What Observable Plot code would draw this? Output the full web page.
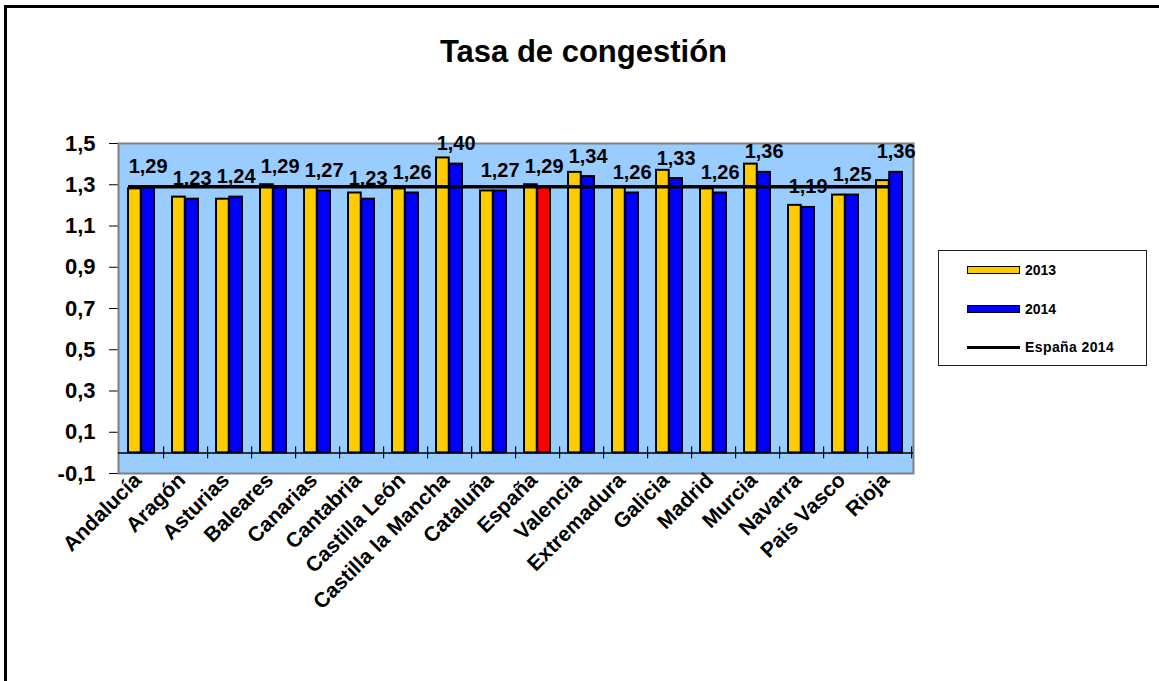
<!DOCTYPE html>
<html><head><meta charset="utf-8">
<script src="https://cdn.jsdelivr.net/npm/d3@7"></script>
<script src="https://cdn.jsdelivr.net/npm/@observablehq/plot@0.6"></script>
<style>
body{margin:0;background:#fff;overflow:hidden;font-family:"Liberation Sans",Arial,sans-serif;}
#wrap{position:relative;width:1159px;height:681px;overflow:hidden;}
#border{position:absolute;left:4px;top:5px;width:1300px;height:800px;border-left:3px solid #000;border-top:3px solid #000;z-index:5;}
#title{position:absolute;left:0;width:1167px;top:36px;text-align:center;font-weight:bold;font-size:31px;line-height:31px;z-index:6;}
#chart{position:absolute;left:0;top:0;}
#legend{position:absolute;left:938px;top:250px;width:207px;height:114px;border:1px solid #222;background:#fff;z-index:6;}
#legend .sw{position:absolute;left:28px;width:53px;height:8px;box-sizing:border-box;border:1.5px solid #000;}
#legend .ln{position:absolute;left:28px;width:53px;height:3px;background:#000;}
#legend .tx{position:absolute;left:86px;font-size:14px;line-height:14px;font-weight:bold;white-space:nowrap;}
</style></head>
<body>
<div id="wrap">
  <div id="border"></div>
  <div id="title">Tasa de congestión</div>
  <div id="chart"></div>
  <div id="legend"></div>
</div>
<script>
// ---- data ----
const categories = ["Andalucía","Aragón","Asturias","Baleares","Canarias","Cantabria","Castilla León","Castilla la Mancha","Cataluña","España","Valencia","Extremadura","Galicia","Madrid","Murcia","Navarra","Pais Vasco","Rioja"];
const values2013 = [1.28,1.24,1.23,1.30,1.29,1.26,1.28,1.43,1.27,1.30,1.36,1.29,1.37,1.28,1.40,1.20,1.25,1.32];
const values2014 = [1.29,1.23,1.24,1.29,1.27,1.23,1.26,1.40,1.27,1.29,1.34,1.26,1.33,1.26,1.36,1.19,1.25,1.36];
const espana2014 = 1.29;
const yTicks = [-0.1,0.1,0.3,0.5,0.7,0.9,1.1,1.3,1.5];
const seriesNames = ["2013","2014","España 2014"];
const highlightCategory = "España";

// ---- layout ----
const W = 1159, H = 681;
const mL = 118, mR = 246, mT = 143, mB = 208;
const padInner = 0.4;
const step = (W - mL - mR) / categories.length;
const bw = step * (1 - padInner);

const rows = categories.map((c, i) => ({cat: c, v13: values2013[i], v14: values2014[i]}));
const fmt2 = d => d.toFixed(2).replace(".", ",");
const fmt1 = d => d.toFixed(1).replace(".", ",");

const plot = Plot.plot({
  width: W, height: H,
  marginLeft: mL, marginRight: mR, marginTop: mT, marginBottom: mB,
  style: {background: "none", fontFamily: "'Liberation Sans', Arial, sans-serif", fontWeight: "bold", fontSize: "22px", color: "#000"},
  x: {domain: categories, paddingInner: padInner, paddingOuter: padInner / 2, axis: null},
  y: {domain: [-0.1, 1.5], ticks: yTicks, tickFormat: fmt1, tickSize: 9, tickPadding: 14, label: null},
  color: {type: "identity"},
  marks: [
    Plot.frame({fill: "#99CCFF", stroke: "#808080", strokeWidth: 2}),
    Plot.barY(rows, {x: "cat", y: "v13", fill: "#FFCC00", stroke: "#000", strokeWidth: 2, insetRight: bw / 2}),
    Plot.barY(rows, {x: "cat", y: "v14", fill: d => d.cat === highlightCategory ? "#FF0000" : "#0000FF", stroke: "#000", strokeWidth: 2, insetLeft: bw / 2}),
    Plot.text(rows, {x: "cat", y: "v14", text: d => fmt2(d.v14), dx: bw / 4, dy: -14, lineAnchor: "bottom", fontSize: 20, fontWeight: "bold", fill: "#000"}),
    Plot.ruleY([espana2014], {x1: () => categories[0], x2: () => categories[categories.length - 1], stroke: "#000", strokeWidth: 3.5, insetRight: bw / 2}),
    Plot.ruleY([0], {stroke: "#000", strokeWidth: 1.5}),
    Plot.ruleX(categories, {x: d => d, y1: () => 0, y2: () => 0, dx: step / 2, insetTop: -6, insetBottom: -6, stroke: "#000", strokeWidth: 1.2}),
    Plot.text(categories, {x: d => d, frameAnchor: "bottom", rotate: -45, textAnchor: "end", dx: 1, dy: 8, fontSize: 21, fontWeight: "bold", fill: "#000"})
  ]
});
document.getElementById("chart").appendChild(plot);

// ---- legend ----
const lg = document.getElementById("legend");
lg.innerHTML =
  `<div class="sw" style="top:15px;background:#FFCC00"></div><div class="tx" style="top:12px">${seriesNames[0]}</div>` +
  `<div class="sw" style="top:54px;background:#0000FF"></div><div class="tx" style="top:51px">${seriesNames[1]}</div>` +
  `<div class="ln" style="top:95px"></div><div class="tx" style="top:89px;letter-spacing:0.4px">${seriesNames[2]}</div>`;
</script>
</body></html>
